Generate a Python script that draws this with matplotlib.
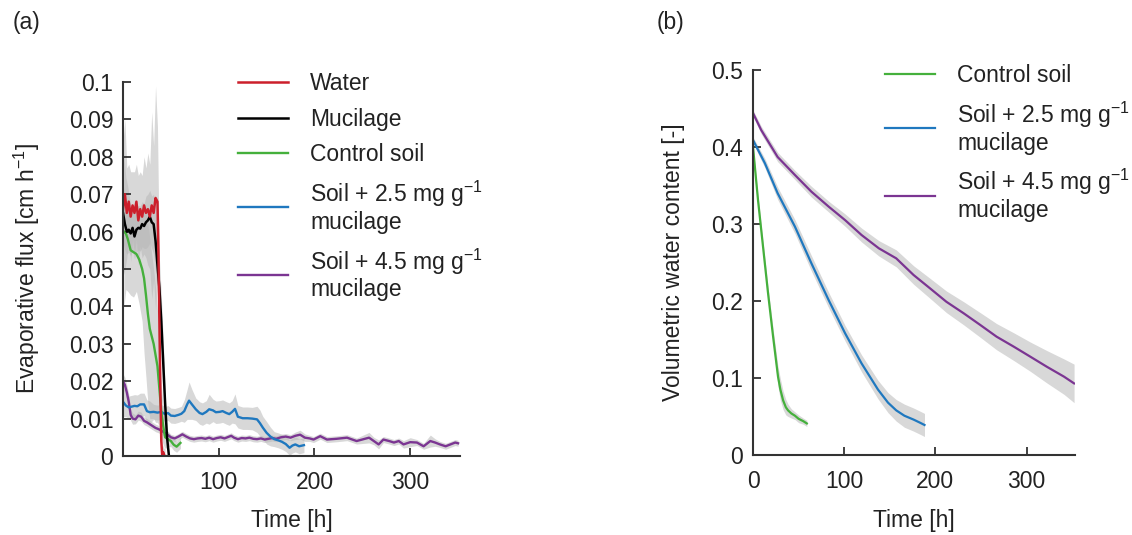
import numpy as np
import matplotlib
matplotlib.use("Agg")
import matplotlib.pyplot as plt

plt.rcParams['font.family'] = ['Liberation Sans', 'DejaVu Sans']
plt.rcParams['mathtext.default'] = 'regular'
plt.rcParams['font.size'] = 16.5
plt.rcParams['text.color'] = '#222222'
plt.rcParams['axes.labelcolor'] = '#222222'

# ---- (a) evaporative flux [cm h-1] vs time [h] ----
t_water = [0, 2, 4, 6, 8, 10, 12, 14, 16, 18, 20, 22, 24, 26, 28, 30, 32, 34, 36,
           37, 38, 39, 40, 41, 42, 43, 44]
flux_water = [0.066, 0.070, 0.065, 0.068, 0.064, 0.067, 0.065, 0.068, 0.063, 0.066,
              0.064, 0.067, 0.065, 0.066, 0.064, 0.067, 0.065, 0.069, 0.068,
              0.055, 0.036, 0.018, 0.004, 0.0, 0.001, 0.0, 0.0]
sd_water = [0.018, 0.020, 0.012, 0.010, 0.012, 0.009, 0.011, 0.010, 0.012, 0.010,
            0.011, 0.013, 0.012, 0.015, 0.014, 0.025, 0.018, 0.030, 0.020,
            0.015, 0.010, 0.006, 0.003, 0.002, 0.002, 0.002, 0.002]

t_muc = [0, 2, 4, 6, 8, 10, 12, 14, 16, 18, 20, 22, 24, 26, 28, 30, 32, 34, 36,
         38, 40, 42, 44, 46, 48]
flux_muc = [0.065, 0.062, 0.060, 0.0605, 0.0595, 0.061, 0.0587, 0.0605, 0.061, 0.0608,
            0.062, 0.0615, 0.0625, 0.063, 0.064, 0.0625, 0.062, 0.0575, 0.051,
            0.045, 0.036, 0.025, 0.014, 0.005, 0.0]
sd_muc = [0.008, 0.007, 0.006, 0.006, 0.006, 0.006, 0.006, 0.006, 0.006, 0.006,
          0.006, 0.006, 0.007, 0.007, 0.007, 0.007, 0.008, 0.008, 0.008,
          0.008, 0.007, 0.006, 0.004, 0.002, 0.001]

t_ctrl = [1, 3, 5, 8, 11, 14, 17, 20, 22, 24, 26, 28, 30, 32, 34, 36, 38, 40, 42,
          44, 47, 50, 53, 56, 60]
flux_ctrl = [0.060, 0.0595, 0.058, 0.055, 0.0545, 0.054, 0.0525, 0.050, 0.0475, 0.043,
             0.038, 0.034, 0.032, 0.030, 0.027, 0.024, 0.018, 0.012, 0.008,
             0.005, 0.0045, 0.004, 0.003, 0.0025, 0.0035]
sd_ctrl = [0.020, 0.015, 0.014, 0.012, 0.012, 0.010, 0.012, 0.014, 0.020, 0.022,
           0.024, 0.024, 0.022, 0.020, 0.018, 0.015, 0.010, 0.007, 0.005,
           0.003, 0.002, 0.0015, 0.0015, 0.0015, 0.0015]

t_m25 = [0, 3, 6, 9, 12, 15, 18, 22, 25, 28, 32, 36, 40, 44, 47, 50, 54, 58, 61, 64,
         67, 69, 72, 76, 80, 83, 87, 90, 94, 97, 101, 104, 108, 111, 114, 117, 120,
         125, 130, 135, 140, 143, 146, 150, 154, 158, 162, 166, 170, 174, 177, 180,
         184, 189]
flux_m25 = [0.0145, 0.0135, 0.013, 0.0132, 0.0134, 0.0133, 0.0138, 0.0138, 0.012,
            0.0117, 0.0118, 0.0116, 0.0118, 0.0112, 0.0115, 0.0108, 0.0107, 0.011,
            0.0113, 0.012, 0.0138, 0.0148, 0.0138, 0.0125, 0.0115, 0.0112, 0.0118,
            0.0125, 0.0122, 0.0117, 0.0118, 0.012, 0.0115, 0.0112, 0.0118, 0.0126,
            0.0105, 0.0101, 0.0101, 0.0100, 0.0098, 0.0088, 0.0076, 0.0062, 0.0052,
            0.0045, 0.0042, 0.0038, 0.0032, 0.0022, 0.0028, 0.0031, 0.0026, 0.0029]
sd_m25 = [0.004, 0.003, 0.003, 0.003, 0.003, 0.003, 0.003, 0.003, 0.003,
          0.003, 0.002, 0.002, 0.002, 0.002, 0.002, 0.002, 0.002, 0.002,
          0.002, 0.003, 0.004, 0.005, 0.004, 0.003, 0.003, 0.003, 0.003,
          0.004, 0.003, 0.003, 0.003, 0.003, 0.003, 0.003, 0.003, 0.004,
          0.003, 0.003, 0.003, 0.003, 0.0035, 0.0035, 0.003, 0.003, 0.0025,
          0.002, 0.002, 0.002, 0.002, 0.002, 0.002, 0.002, 0.002, 0.002]

t_m45 = [0, 2, 4, 6, 8, 10, 13, 16, 19, 22, 25, 28, 31, 34, 37, 40, 43, 46, 50, 54,
         58, 62, 66, 70, 74, 78, 82, 86, 90, 94, 98, 102, 106, 110, 113, 116, 120,
         124, 128, 132, 136, 140, 144, 148, 152, 156, 160, 165, 170, 175, 180, 185,
         190, 195, 199, 206, 213, 223, 234, 244, 257, 262, 267, 272, 278, 283, 288,
         293, 300, 307, 314, 321, 326, 331, 337, 342, 347, 350]
flux_m45 = [0.020, 0.019, 0.017, 0.0145, 0.011, 0.0100, 0.0098, 0.0108, 0.0105, 0.0094,
            0.0090, 0.0085, 0.0080, 0.0075, 0.0072, 0.0068, 0.0063, 0.0058, 0.0050,
            0.0047, 0.0052, 0.0058, 0.0052, 0.0047, 0.0045, 0.0047, 0.0048, 0.0046,
            0.0049, 0.0045, 0.0048, 0.0050, 0.0047, 0.0051, 0.0054, 0.0049, 0.0045,
            0.0048, 0.0047, 0.0049, 0.0046, 0.0045, 0.0047, 0.0044, 0.0046, 0.0048,
            0.0046, 0.0050, 0.0052, 0.0049, 0.0054, 0.0057, 0.0049, 0.0047, 0.0044,
            0.0053, 0.0044, 0.0046, 0.0049, 0.0040, 0.0049, 0.0040, 0.0031, 0.0044,
            0.0040, 0.0036, 0.0040, 0.0031, 0.0037, 0.0036, 0.0026, 0.0040, 0.0036,
            0.0031, 0.0026, 0.0031, 0.0036, 0.0034]
sd_m45 = [0.002, 0.002, 0.002, 0.002, 0.0015, 0.0015, 0.0012, 0.0012, 0.0012, 0.001,
          0.001, 0.001, 0.001, 0.001, 0.001, 0.001, 0.001, 0.001, 0.0008,
          0.0008, 0.0008, 0.0008, 0.0008, 0.0008, 0.0008, 0.0008, 0.0008, 0.0008,
          0.0008, 0.0008, 0.0008, 0.0008, 0.0008, 0.0008, 0.0008, 0.0008, 0.0008,
          0.0008, 0.0008, 0.0008, 0.0008, 0.0008, 0.0008, 0.0008, 0.0008, 0.0008,
          0.0008, 0.0008, 0.0008, 0.0008, 0.0010, 0.0012, 0.0010, 0.0008, 0.0008,
          0.0008, 0.0008, 0.0008, 0.0008, 0.0008, 0.0014, 0.0010, 0.0012, 0.0008,
          0.0008, 0.0008, 0.0008, 0.0010, 0.0012, 0.0008, 0.0008, 0.0016, 0.0010,
          0.0008, 0.0008, 0.0008, 0.0008, 0.0008]

# ---- (b) volumetric water content [-] vs time [h] ----
t_ctrl_b = [0, 5.5, 11, 16.5, 22, 27.4, 30, 33, 36, 38.4, 42, 46, 50, 55, 59]
theta_ctrl = [0.40, 0.331, 0.2705, 0.21, 0.154, 0.102, 0.085, 0.071, 0.062, 0.058,
              0.054, 0.051, 0.047, 0.044, 0.041]
sd_ctrl_b = [0.004, 0.005, 0.006, 0.008, 0.010, 0.013, 0.014, 0.012, 0.010, 0.008,
             0.006, 0.005, 0.005, 0.004, 0.004]

t_m25_b = [0, 13, 27, 46, 64, 83, 101, 119, 137, 148, 157, 166, 176, 183, 188]
theta_m25 = [0.409, 0.379, 0.34, 0.2965, 0.249, 0.201, 0.158, 0.119, 0.085, 0.068,
             0.058, 0.051, 0.046, 0.042, 0.039]
sd_m25_b = [0.004, 0.006, 0.008, 0.009, 0.010, 0.010, 0.010, 0.011, 0.012, 0.013,
            0.014, 0.015, 0.015, 0.015, 0.015]

t_m45_b = [0, 9, 27, 46, 64, 83, 101, 119, 138, 157, 176, 194, 212, 231, 249, 267,
           286, 304, 322, 341, 352]
theta_m45 = [0.444, 0.422, 0.387, 0.3636, 0.342, 0.3225, 0.305, 0.2857, 0.2684,
             0.2554, 0.2338, 0.2165, 0.199, 0.184, 0.169, 0.1537, 0.1406, 0.1277,
             0.1147, 0.1017, 0.093]
sd_m45_b = [0.004, 0.005, 0.006, 0.006, 0.007, 0.007, 0.008, 0.009, 0.010, 0.011,
            0.012, 0.013, 0.014, 0.015, 0.016, 0.017, 0.018, 0.019, 0.021, 0.023,
            0.025]

flux_ticks = [0, 0.01, 0.02, 0.03, 0.04, 0.05, 0.06, 0.07, 0.08, 0.09, 0.1]
flux_ticklabels = ['0', '0.01', '0.02', '0.03', '0.04', '0.05', '0.06', '0.07',
                   '0.08', '0.09', '0.1']
theta_ticks = [0, 0.1, 0.2, 0.3, 0.4, 0.5]
theta_ticklabels = ['0', '0.1', '0.2', '0.3', '0.4', '0.5']

lab_water = 'Water'
lab_muc = 'Mucilage'
lab_ctrl = 'Control soil'
lab_m25 = 'Soil + 2.5 mg g$^{-1}$\nmucilage'
lab_m45 = 'Soil + 4.5 mg g$^{-1}$\nmucilage'

col_water = '#cc1f2b'
col_muc = '#000000'
col_ctrl = '#45b03c'
col_m25 = '#1f78bf'
col_m45 = '#7b3592'
band = '#b8b8b8'
axcol = '#333333'


def shade(ax, t, m, s):
    m = np.asarray(m)
    s = np.asarray(s)
    ax.fill_between(t, m - s, m + s, color=band, alpha=0.55, lw=0)


def style(ax):
    for side in ['top', 'right']:
        ax.spines[side].set_visible(False)
    for side in ['left', 'bottom']:
        ax.spines[side].set_color(axcol)
        ax.spines[side].set_linewidth(1.5)
    ax.tick_params(direction='in', length=6, width=1.3, color=axcol,
                   labelcolor='#222222', labelsize=16.5)
    ax.tick_params(axis='x', pad=11)
    ax.tick_params(axis='y', pad=7)


def make_legend(ax, handles, labels, x, y):
    leg = ax.legend(handles, labels, loc='upper left', bbox_to_anchor=(x, y),
                    bbox_transform=fig.transFigure, frameon=False,
                    handlelength=2.2, handletextpad=0.95, labelspacing=0.55,
                    borderpad=0, borderaxespad=0, fontsize=16.5)
    for txt in leg.get_texts():
        txt.set_linespacing(1.1)
    return leg


fig = plt.figure(figsize=(11.32, 5.35), dpi=100)
ax1 = fig.add_axes([123 / 1132, 1 - 456 / 535, 337 / 1132, 374 / 535])
ax2 = fig.add_axes([753 / 1132, 1 - 455 / 535, 322 / 1132, 385 / 535])

# panel a
shade(ax1, t_water, flux_water, sd_water)
shade(ax1, t_muc, flux_muc, sd_muc)
shade(ax1, t_ctrl, flux_ctrl, sd_ctrl)
shade(ax1, t_m25, flux_m25, sd_m25)
shade(ax1, t_m45, flux_m45, sd_m45)
l5, = ax1.plot(t_m45, flux_m45, color=col_m45, lw=1.7)
l4, = ax1.plot(t_m25, flux_m25, color=col_m25, lw=1.7)
l3, = ax1.plot(t_ctrl, flux_ctrl, color=col_ctrl, lw=1.7)
l2, = ax1.plot(t_muc, flux_muc, color=col_muc, lw=1.8)
l1, = ax1.plot(t_water, flux_water, color=col_water, lw=1.8)
ax1.set_xlim(0, 352)
ax1.set_ylim(0, 0.1)
ax1.set_xticks([100, 200, 300])
ax1.set_yticks(flux_ticks)
ax1.set_yticklabels(flux_ticklabels)
style(ax1)
ax1.set_xlabel('Time [h]')
ax1.set_ylabel('Evaporative flux [cm h$^{-1}$]')
ax1.xaxis.set_label_coords(0.5, -0.143)
ax1.yaxis.set_label_coords(-0.240, 0.5)
make_legend(ax1, [l1, l2, l3, l4, l5], [lab_water, lab_muc, lab_ctrl, lab_m25, lab_m45],
            238 / 1132, 1 - 72 / 535)

# panel b
shade(ax2, t_ctrl_b, theta_ctrl, sd_ctrl_b)
shade(ax2, t_m25_b, theta_m25, sd_m25_b)
shade(ax2, t_m45_b, theta_m45, sd_m45_b)
k1, = ax2.plot(t_ctrl_b, theta_ctrl, color=col_ctrl, lw=1.6)
k2, = ax2.plot(t_m25_b, theta_m25, color=col_m25, lw=1.6)
k3, = ax2.plot(t_m45_b, theta_m45, color=col_m45, lw=1.6)
ax2.set_xlim(0, 353)
ax2.set_ylim(0, 0.5)
ax2.set_xticks([0, 100, 200, 300])
ax2.set_yticks(theta_ticks)
ax2.set_yticklabels(theta_ticklabels)
style(ax2)
ax2.set_xlabel('Time [h]')
ax2.set_ylabel('Volumetric water content [-]')
ax2.xaxis.set_label_coords(0.5, -0.140)
ax2.yaxis.set_label_coords(-0.212, 0.5)
make_legend(ax2, [k1, k2, k3], [lab_ctrl, lab_m25, lab_m45], 885 / 1132, 1 - 64 / 535)

fig.text(13 / 1132, 1 - 23 / 535, '(a)', fontsize=16.5, va='center')
fig.text(657 / 1132, 1 - 23 / 535, '(b)', fontsize=16.5, va='center')

fig.savefig('out.png', dpi=100)
